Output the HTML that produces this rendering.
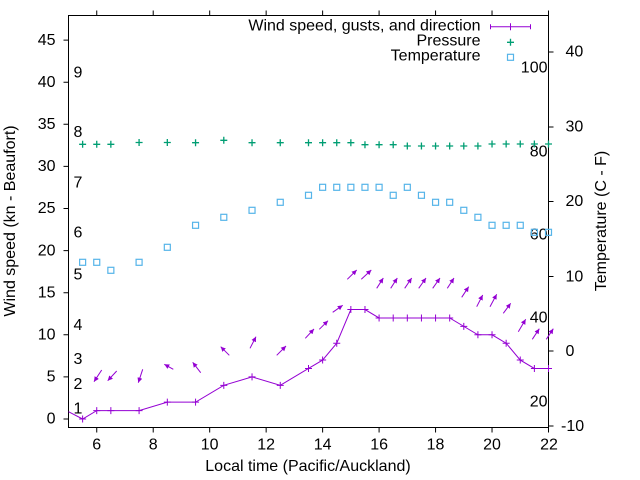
<!DOCTYPE html>
<html>
<head>
<meta charset="utf-8">
<style>
  html, body { margin: 0; padding: 0; background: #ffffff; }
  svg { display: block; }
  text { font-family: "Liberation Sans", Arial, sans-serif; font-size: 16px; fill: #000; }
</style>
</head>
<body>
<svg width="640" height="480" viewBox="0 0 640 480" xmlns="http://www.w3.org/2000/svg">
  <defs>
    <marker id="ah" markerUnits="userSpaceOnUse" markerWidth="6" markerHeight="6" refX="5" refY="2.5" orient="auto">
      <path d="M0,0 L5,2.5 L0,5 z" fill="#9400d3"/>
    </marker>
    <path id="wp" d="M-3.5,0h7M0,-3.5v7" stroke="#9400d3" stroke-width="1" fill="none"/>
    <path id="pp" d="M-3.5,0h7M0,-3.5v7" stroke="#009e73" stroke-width="1.3" fill="none"/>
    <rect id="tp" x="-3" y="-3" width="6" height="6" stroke="#56b4e9" stroke-width="1.2" fill="none"/>
  </defs>

  <rect x="0" y="0" width="640" height="480" fill="#fff"/>

  <!-- Beaufort labels -->
  <g text-anchor="start">
    <text x="73.5" y="77.7">9</text>
    <text x="73.5" y="137">8</text>
    <text x="73.5" y="187.3">7</text>
    <text x="73.5" y="237.7">6</text>
    <text x="73.5" y="279.3">5</text>
    <text x="73.5" y="330">4</text>
    <text x="73.5" y="364">3</text>
    <text x="73.5" y="389">2</text>
    <text x="73.5" y="413.7">1</text>
  </g>

  <!-- Fahrenheit labels -->
  <g text-anchor="end">
    <text x="547.5" y="72.7">100</text>
    <text x="547.5" y="156.3">80</text>
    <text x="547.5" y="239.3">60</text>
    <text x="547.5" y="322.7">40</text>
    <text x="547.5" y="406.5">20</text>
  </g>

  <!-- Border -->
  <rect x="68.5" y="15.5" width="480" height="412" fill="none" stroke="#000" stroke-width="1"/>

  <!-- Ticks -->
  <g stroke="#000" stroke-width="1">
    <path d="M63.5,419h5M63.5,376.9h5M63.5,334.8h5M63.5,292.7h5M63.5,250.6h5M63.5,208.5h5M63.5,166.4h5M63.5,124.3h5M63.5,82.2h5M63.5,40.1h5"/>
    <path d="M548.5,52h5M548.5,127h5M548.5,201.5h5M548.5,276.5h5M548.5,351h5M548.5,426h5"/>
    <path d="M96.74,427.5v5M153.21,427.5v5M209.68,427.5v5M266.15,427.5v5M322.62,427.5v5M379.09,427.5v5M435.56,427.5v5M492.03,427.5v5M548.5,427.5v5"/>
    <path d="M96.74,15.5v-5M153.21,15.5v-5M209.68,15.5v-5M266.15,15.5v-5M322.62,15.5v-5M379.09,15.5v-5M435.56,15.5v-5M492.03,15.5v-5M548.5,15.5v-5"/>
  </g>

  <!-- Left tick labels -->
  <g text-anchor="end">
    <text x="55.5" y="423.7">0</text>
    <text x="55.5" y="381.6">5</text>
    <text x="55.5" y="339.5">10</text>
    <text x="55.5" y="297.4">15</text>
    <text x="55.5" y="255.3">20</text>
    <text x="55.5" y="213.2">25</text>
    <text x="55.5" y="171.1">30</text>
    <text x="55.5" y="129">35</text>
    <text x="55.5" y="86.9">40</text>
    <text x="55.5" y="44.8">45</text>
  </g>

  <!-- Right tick labels -->
  <g text-anchor="start">
    <text x="565.5" y="56.5">40</text>
    <text x="565.5" y="131.5">30</text>
    <text x="565.5" y="206">20</text>
    <text x="565.5" y="281.5">10</text>
    <text x="565.5" y="356">0</text>
    <text x="561" y="431">-10</text>
  </g>

  <!-- Bottom tick labels -->
  <g text-anchor="middle">
    <text x="96.74" y="449.5">6</text>
    <text x="153.21" y="449.5">8</text>
    <text x="209.68" y="449.5">10</text>
    <text x="266.15" y="449.5">12</text>
    <text x="322.62" y="449.5">14</text>
    <text x="379.09" y="449.5">16</text>
    <text x="435.56" y="449.5">18</text>
    <text x="492.03" y="449.5">20</text>
    <text x="549" y="449.5">22</text>
  </g>

  <!-- Axis labels -->
  <text x="308" y="471" text-anchor="middle">Local time (Pacific/Auckland)</text>
  <text transform="translate(15,221) rotate(-90)" text-anchor="middle">Wind speed (kn - Beaufort)</text>
  <text transform="translate(606,221) rotate(-90)" text-anchor="middle">Temperature (C - F)</text>

  <!-- Legend -->
  <g text-anchor="end">
    <text x="480.5" y="30.7">Wind speed, gusts, and direction</text>
    <text x="480.5" y="45.7">Pressure</text>
    <text x="480.5" y="60.7">Temperature</text>
  </g>
  <g stroke="#9400d3" stroke-width="1" fill="none">
    <path d="M490.5,26.7h40M490.5,24.2v5M530.5,24.2v5M510.5,23.2v7"/>
  </g>
  <use href="#pp" x="510.5" y="42.3"/>
  <use href="#tp" x="510.5" y="57.3"/>

  <!-- Pressure -->
  <g>
    <use href="#pp" x="82.62" y="144.3"/>
    <use href="#pp" x="96.74" y="144.3"/>
    <use href="#pp" x="110.85" y="144.3"/>
    <use href="#pp" x="139.09" y="142.5"/>
    <use href="#pp" x="167.32" y="142.5"/>
    <use href="#pp" x="195.56" y="142.7"/>
    <use href="#pp" x="223.79" y="140.3"/>
    <use href="#pp" x="252.03" y="142.7"/>
    <use href="#pp" x="280.26" y="142.7"/>
    <use href="#pp" x="308.5" y="142.7"/>
    <use href="#pp" x="322.62" y="142.7"/>
    <use href="#pp" x="336.74" y="142.7"/>
    <use href="#pp" x="350.85" y="142.7"/>
    <use href="#pp" x="364.97" y="144.7"/>
    <use href="#pp" x="379.09" y="144.7"/>
    <use href="#pp" x="393.21" y="144.7"/>
    <use href="#pp" x="407.32" y="146"/>
    <use href="#pp" x="421.44" y="146"/>
    <use href="#pp" x="435.56" y="146"/>
    <use href="#pp" x="449.68" y="146"/>
    <use href="#pp" x="463.79" y="146"/>
    <use href="#pp" x="477.91" y="146"/>
    <use href="#pp" x="492.03" y="144"/>
    <use href="#pp" x="506.15" y="144"/>
    <use href="#pp" x="520.26" y="144"/>
    <use href="#pp" x="534.38" y="144"/>
    <use href="#pp" x="548.5" y="144"/>
  </g>

  <!-- Temperature -->
  <g>
    <use href="#tp" x="82.62" y="262.3"/>
    <use href="#tp" x="96.74" y="262.3"/>
    <use href="#tp" x="110.85" y="270.3"/>
    <use href="#tp" x="139.09" y="262.3"/>
    <use href="#tp" x="167.32" y="247.3"/>
    <use href="#tp" x="195.56" y="225.3"/>
    <use href="#tp" x="223.79" y="217.3"/>
    <use href="#tp" x="252.03" y="210.3"/>
    <use href="#tp" x="280.26" y="202.3"/>
    <use href="#tp" x="308.5" y="195.3"/>
    <use href="#tp" x="322.62" y="187.3"/>
    <use href="#tp" x="336.74" y="187.3"/>
    <use href="#tp" x="350.85" y="187.3"/>
    <use href="#tp" x="364.97" y="187.3"/>
    <use href="#tp" x="379.09" y="187.3"/>
    <use href="#tp" x="393.21" y="195.3"/>
    <use href="#tp" x="407.32" y="187.3"/>
    <use href="#tp" x="421.44" y="195.3"/>
    <use href="#tp" x="435.56" y="202.3"/>
    <use href="#tp" x="449.68" y="202.3"/>
    <use href="#tp" x="463.79" y="210.3"/>
    <use href="#tp" x="477.91" y="217.3"/>
    <use href="#tp" x="492.03" y="225.3"/>
    <use href="#tp" x="506.15" y="225.3"/>
    <use href="#tp" x="520.26" y="225.3"/>
    <use href="#tp" x="534.38" y="232.3"/>
    <use href="#tp" x="548.5" y="232.3"/>
  </g>

  <!-- Wind speed line -->
  <polyline fill="none" stroke="#9400d3" stroke-width="1"
    points="68.5,411.7 82.62,419 96.74,410.58 110.85,410.58 139.09,410.58 167.32,402.16 195.56,402.16 223.79,385.32 252.03,376.9 280.26,385.32 308.5,368.48 322.62,360.06 336.74,343.22 350.85,309.54 364.97,309.54 379.09,317.96 393.21,317.96 407.32,317.96 421.44,317.96 435.56,317.96 449.68,317.96 463.79,326.38 477.91,334.8 492.03,334.8 506.15,343.22 520.26,360.06 534.38,368.48 548.5,368.48"/>
  <g>
    <use href="#wp" x="82.62" y="419"/>
    <use href="#wp" x="96.74" y="410.58"/>
    <use href="#wp" x="110.85" y="410.58"/>
    <use href="#wp" x="139.09" y="410.58"/>
    <use href="#wp" x="167.32" y="402.16"/>
    <use href="#wp" x="195.56" y="402.16"/>
    <use href="#wp" x="223.79" y="385.32"/>
    <use href="#wp" x="252.03" y="376.9"/>
    <use href="#wp" x="280.26" y="385.32"/>
    <use href="#wp" x="308.5" y="368.48"/>
    <use href="#wp" x="322.62" y="360.06"/>
    <use href="#wp" x="336.74" y="343.22"/>
    <use href="#wp" x="350.85" y="309.54"/>
    <use href="#wp" x="364.97" y="309.54"/>
    <use href="#wp" x="379.09" y="317.96"/>
    <use href="#wp" x="393.21" y="317.96"/>
    <use href="#wp" x="407.32" y="317.96"/>
    <use href="#wp" x="421.44" y="317.96"/>
    <use href="#wp" x="435.56" y="317.96"/>
    <use href="#wp" x="449.68" y="317.96"/>
    <use href="#wp" x="463.79" y="326.38"/>
    <use href="#wp" x="477.91" y="334.8"/>
    <use href="#wp" x="492.03" y="334.8"/>
    <use href="#wp" x="506.15" y="343.22"/>
    <use href="#wp" x="520.26" y="360.06"/>
    <use href="#wp" x="534.38" y="368.48"/>
    <use href="#wp" x="548.5" y="368.48"/>
  </g>

  <!-- Gust / direction arrows -->
  <g stroke="#9400d3" stroke-width="1" marker-end="url(#ah)">
    <line x1="101.7" y1="370" x2="94" y2="381.7"/>
    <line x1="116.7" y1="371" x2="107.7" y2="380.7"/>
    <line x1="142.7" y1="369.3" x2="138.3" y2="382.7"/>
    <line x1="173.3" y1="369.3" x2="164.3" y2="364.3"/>
    <line x1="200.7" y1="372.7" x2="192.7" y2="362.3"/>
    <line x1="229.3" y1="355.3" x2="220.7" y2="346.7"/>
    <line x1="250" y1="348.3" x2="256" y2="336.7"/>
    <line x1="276.7" y1="355.3" x2="286" y2="346"/>
    <line x1="305.3" y1="338.3" x2="314" y2="329"/>
    <line x1="319.3" y1="329.3" x2="328" y2="320.7"/>
    <line x1="332.7" y1="312.3" x2="342.7" y2="305.3"/>
    <line x1="347.3" y1="279.3" x2="356.7" y2="270"/>
    <line x1="361.3" y1="279.3" x2="371.3" y2="270"/>
    <line x1="376.7" y1="288.3" x2="383.3" y2="278"/>
    <line x1="390.7" y1="288.3" x2="397.3" y2="278"/>
    <line x1="404.7" y1="288.3" x2="411.7" y2="278"/>
    <line x1="418.7" y1="288.3" x2="426" y2="278"/>
    <line x1="432.7" y1="288.3" x2="440" y2="278"/>
    <line x1="447.3" y1="288.3" x2="454" y2="278"/>
    <line x1="461.7" y1="297.3" x2="468.7" y2="286.7"/>
    <line x1="476.7" y1="306.7" x2="482.7" y2="295"/>
    <line x1="490" y1="306.7" x2="496.7" y2="294.3"/>
    <line x1="503.3" y1="313.3" x2="510.7" y2="303.3"/>
    <line x1="518.3" y1="331.7" x2="525.7" y2="319.3"/>
    <line x1="532.3" y1="339.3" x2="539.3" y2="328.7"/>
    <line x1="546.3" y1="339.3" x2="553.3" y2="328.7"/>
  </g>
</svg>
</body>
</html>
